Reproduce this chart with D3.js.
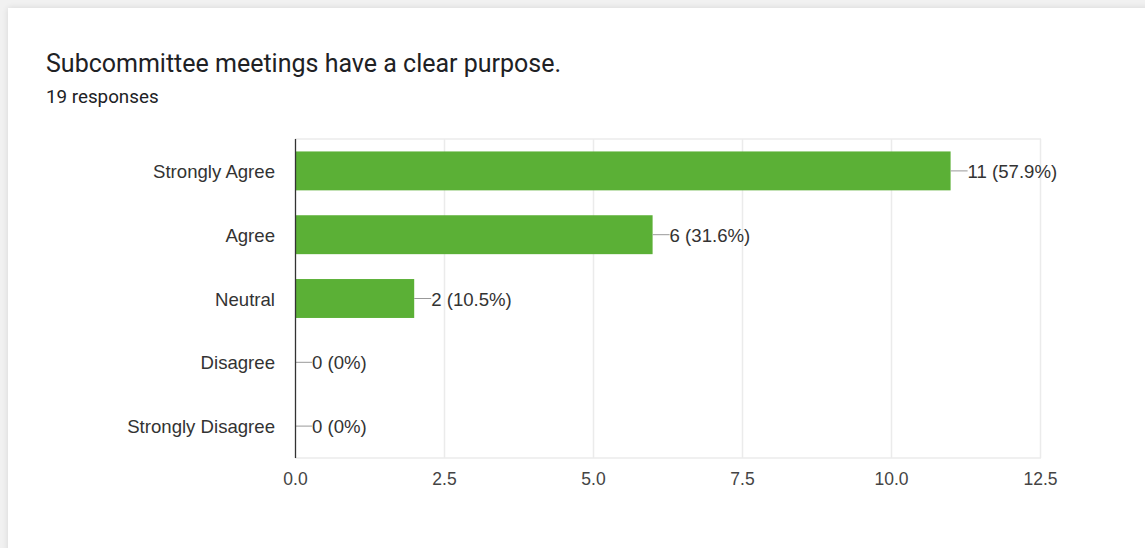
<!DOCTYPE html>
<html>
<head>
<meta charset="utf-8">
<script src="https://cdn.jsdelivr.net/npm/d3@7"></script>
<style>
  html, body { margin: 0; padding: 0; background: #f1f1f1; }
  svg { display: block; }
</style>
</head>
<body>
<svg id="chart" width="1145" height="548"></svg>
<script>
// Survey question data
const categories = ["Strongly Agree", "Agree", "Neutral", "Disagree", "Strongly Disagree"];
const counts = [11, 6, 2, 0, 0];
const percents = ["57.9%", "31.6%", "10.5%", "0%", "0%"];
const xTicks = [0, 2.5, 5, 7.5, 10, 12.5];
const title = "Subcommittee meetings have a clear purpose.";
const subtitle = "19 responses";

const svg = d3.select("#chart");
const W = 1145, H = 548;

// Card background with soft edge
const defs = svg.append("defs");
const f = defs.append("filter").attr("id", "shadow").attr("x", "-5%").attr("y", "-5%").attr("width", "110%").attr("height", "110%");
f.append("feGaussianBlur").attr("in", "SourceAlpha").attr("stdDeviation", 3);
f.append("feOffset").attr("dx", 0).attr("dy", 0).attr("result", "b");
f.append("feComponentTransfer").append("feFuncA").attr("type", "linear").attr("slope", 0.12);
const m = f.append("feMerge");
m.append("feMergeNode");
m.append("feMergeNode").attr("in", "SourceGraphic");

svg.append("rect").attr("x", 0).attr("y", 0).attr("width", W).attr("height", H).attr("fill", "#f1f1f1");
svg.append("rect").attr("x", 8).attr("y", 8).attr("width", W).attr("height", H)
  .attr("fill", "#ffffff").attr("filter", "url(#shadow)");

// Title and response count
svg.append("text").attr("x", 46).attr("y", 72)
  .attr("font-family", "Roboto, sans-serif").attr("font-size", 25)
  .attr("fill", "#202124").text(title);
svg.append("text").attr("x", 46).attr("y", 103)
  .attr("font-family", "Roboto, sans-serif").attr("font-size", 18.8)
  .attr("fill", "#202124").text(subtitle);

// Plot area
const plot = { left: 295, right: 1040, top: 139, bottom: 458 };

const x = d3.scaleLinear().domain([0, 12.5]).range([plot.left, plot.right]);
const y = d3.scaleBand().domain(categories).range([plot.top, plot.bottom])
  .paddingInner(0.39).paddingOuter(0.195);

const font = "'Liberation Sans', Arial, sans-serif";

// Vertical grid lines
svg.append("g").selectAll("line").data(xTicks.slice(1)).join("line")
  .attr("x1", d => Math.round(x(d)) + 0.5).attr("x2", d => Math.round(x(d)) + 0.5)
  .attr("y1", plot.top).attr("y2", plot.bottom)
  .attr("stroke", "#ebebeb").attr("stroke-width", 1.5);

// Top and bottom frame lines
svg.append("line").attr("x1", plot.left).attr("x2", plot.right + 1)
  .attr("y1", plot.top).attr("y2", plot.top).attr("stroke", "#ebebeb").attr("stroke-width", 1.5);
svg.append("line").attr("x1", plot.left).attr("x2", plot.right + 1)
  .attr("y1", plot.bottom).attr("y2", plot.bottom).attr("stroke", "#ebebeb").attr("stroke-width", 1.5);

// X axis tick labels
const xAxis = d3.axisBottom(x).tickValues(xTicks).tickFormat(d3.format(".1f")).tickSize(0).tickPadding(15);
const gx = svg.append("g").attr("transform", `translate(0,${plot.bottom})`).call(xAxis);
gx.select(".domain").remove();
gx.selectAll("text").attr("font-family", font).attr("font-size", 17.5).attr("fill", "#444");

// Bars
svg.append("g").selectAll("rect").data(categories).join("rect")
  .attr("x", x(0))
  .attr("y", d => y(d))
  .attr("width", (d, i) => x(counts[i]) - x(0))
  .attr("height", y.bandwidth())
  .attr("fill", "#5bb036");

// Value annotations with leader lines
const ann = svg.append("g");
categories.forEach((c, i) => {
  const cx = x(counts[i]);
  const cy = y(c) + y.bandwidth() / 2;
  ann.append("line").attr("x1", cx).attr("x2", cx + 17).attr("y1", cy).attr("y2", cy)
    .attr("stroke", "#999").attr("stroke-width", 1);
  ann.append("text").attr("x", cx + 17).attr("y", cy).attr("dy", "0.38em")
    .attr("font-family", font).attr("font-size", 18.6).attr("fill", "#333")
    .text(`${counts[i]} (${percents[i]})`);
});

// Y axis with category labels
const yAxis = d3.axisLeft(y).tickSize(0).tickPadding(20);
const gy = svg.append("g").attr("transform", `translate(${plot.left},0)`).call(yAxis);
gy.select(".domain").remove();
gy.selectAll("text").attr("font-family", font).attr("font-size", 18.6).attr("fill", "#333")
  .attr("dy", "0.38em");
svg.append("line").attr("x1", plot.left + 0.5).attr("x2", plot.left + 0.5)
  .attr("y1", plot.top).attr("y2", plot.bottom).attr("stroke", "#333").attr("stroke-width", 1.3);
</script>
</body>
</html>
